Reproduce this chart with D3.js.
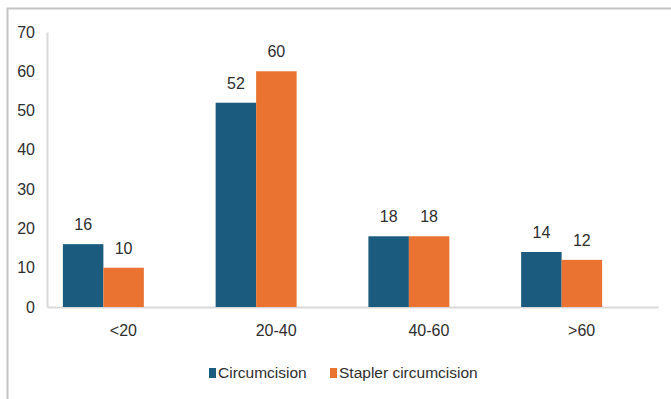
<!DOCTYPE html>
<html>
<head>
<meta charset="utf-8">
<script src="https://cdn.jsdelivr.net/npm/d3@7/dist/d3.min.js"></script>
<style>
  html, body { margin: 0; padding: 0; background: #fff; }
  svg { display: block; font-family: "Liberation Sans", Arial, sans-serif; }
</style>
</head>
<body>
<svg id="chart" width="671" height="399"></svg>
<script>
// Age groups and counts for the two procedures
const categories = ["<20", "20-40", "40-60", ">60"];
const seriesNames = ["Circumcision", "Stapler circumcision"];
const circumcision = [16, 52, 18, 14];
const stapler = [10, 60, 18, 12];
const yTicks = [0, 10, 20, 30, 40, 50, 60, 70];

const colors = ["#1b5b7e", "#ea7332"];
const textColor = "#2e2e2e";
const fontSize = "16px";
const svg = d3.select("#chart");

// Outer frame (top and left edges visible)
svg.append("rect")
  .attr("x", 7.5).attr("y", 8.5)
  .attr("width", 700).attr("height", 420)
  .attr("fill", "none")
  .attr("stroke", "#c4c4c4")
  .attr("stroke-width", 2);

const plot = { left: 47, right: 658, top: 32, bottom: 307 };

const y = d3.scaleLinear().domain([0, 70]).range([plot.bottom, plot.top]);
const x = d3.scaleBand().domain(categories).range([plot.left, plot.right]);
// Bar clusters sit slightly left of the category centres
const groupShift = -20;
const barW = x.bandwidth() * 0.265;
const inner = d3.scaleBand().domain(seriesNames).range([-barW, barW]);

// Axes
const yAxis = d3.axisLeft(y).tickValues(yTicks).tickSize(0).tickPadding(12);
const gy = svg.append("g").attr("transform", `translate(${plot.left},0)`).call(yAxis);
gy.select(".domain").attr("stroke", "#d9d9d9").attr("stroke-width", 2);
gy.selectAll("text").attr("font-size", fontSize).attr("fill", textColor)
  .attr("font-family", "Liberation Sans, Arial, sans-serif");

const xAxis = d3.axisBottom(x).tickSize(0).tickPadding(18);
const gx = svg.append("g").attr("transform", `translate(0,${plot.bottom})`).call(xAxis);
gx.select(".domain").attr("stroke", "#d9d9d9").attr("stroke-width", 2);
gx.selectAll("text").attr("font-size", fontSize).attr("fill", textColor)
  .attr("font-family", "Liberation Sans, Arial, sans-serif");

// Bars and value labels
const rows = categories.map((c, i) => ({ cat: c, vals: [circumcision[i], stapler[i]] }));
const groups = svg.selectAll("g.grp").data(rows).join("g")
  .attr("class", "grp")
  .attr("transform", d => `translate(${x(d.cat) + x.bandwidth() / 2 + groupShift},0)`);

groups.selectAll("rect").data(d => d.vals.map((v, j) => ({ v, name: seriesNames[j], j })))
  .join("rect")
  .attr("x", d => inner(d.name))
  .attr("y", d => y(d.v))
  .attr("width", inner.bandwidth())
  .attr("height", d => y(0) - y(d.v))
  .attr("fill", d => colors[d.j]);

groups.selectAll("text.val").data(d => d.vals.map((v, j) => ({ v, name: seriesNames[j], j })))
  .join("text")
  .attr("class", "val")
  .attr("x", d => inner(d.name) + inner.bandwidth() / 2)
  .attr("y", d => y(d.v) - 14)
  .attr("text-anchor", "middle")
  .attr("font-size", fontSize)
  .attr("fill", textColor)
  .text(d => d.v);

// Legend
const legend = svg.append("g").attr("transform", "translate(209,373)");
const legendItems = [{ name: seriesNames[0], x: 0 }, { name: seriesNames[1], x: 121 }];
legendItems.forEach((it, i) => {
  legend.append("rect").attr("x", it.x).attr("y", -5).attr("width", 7).attr("height", 10)
    .attr("fill", colors[i]);
  legend.append("text").attr("x", it.x + 9).attr("y", 0).attr("dy", "0.35em")
    .attr("font-size", "15.5px").attr("fill", textColor).text(it.name);
});
</script>
</body>
</html>
